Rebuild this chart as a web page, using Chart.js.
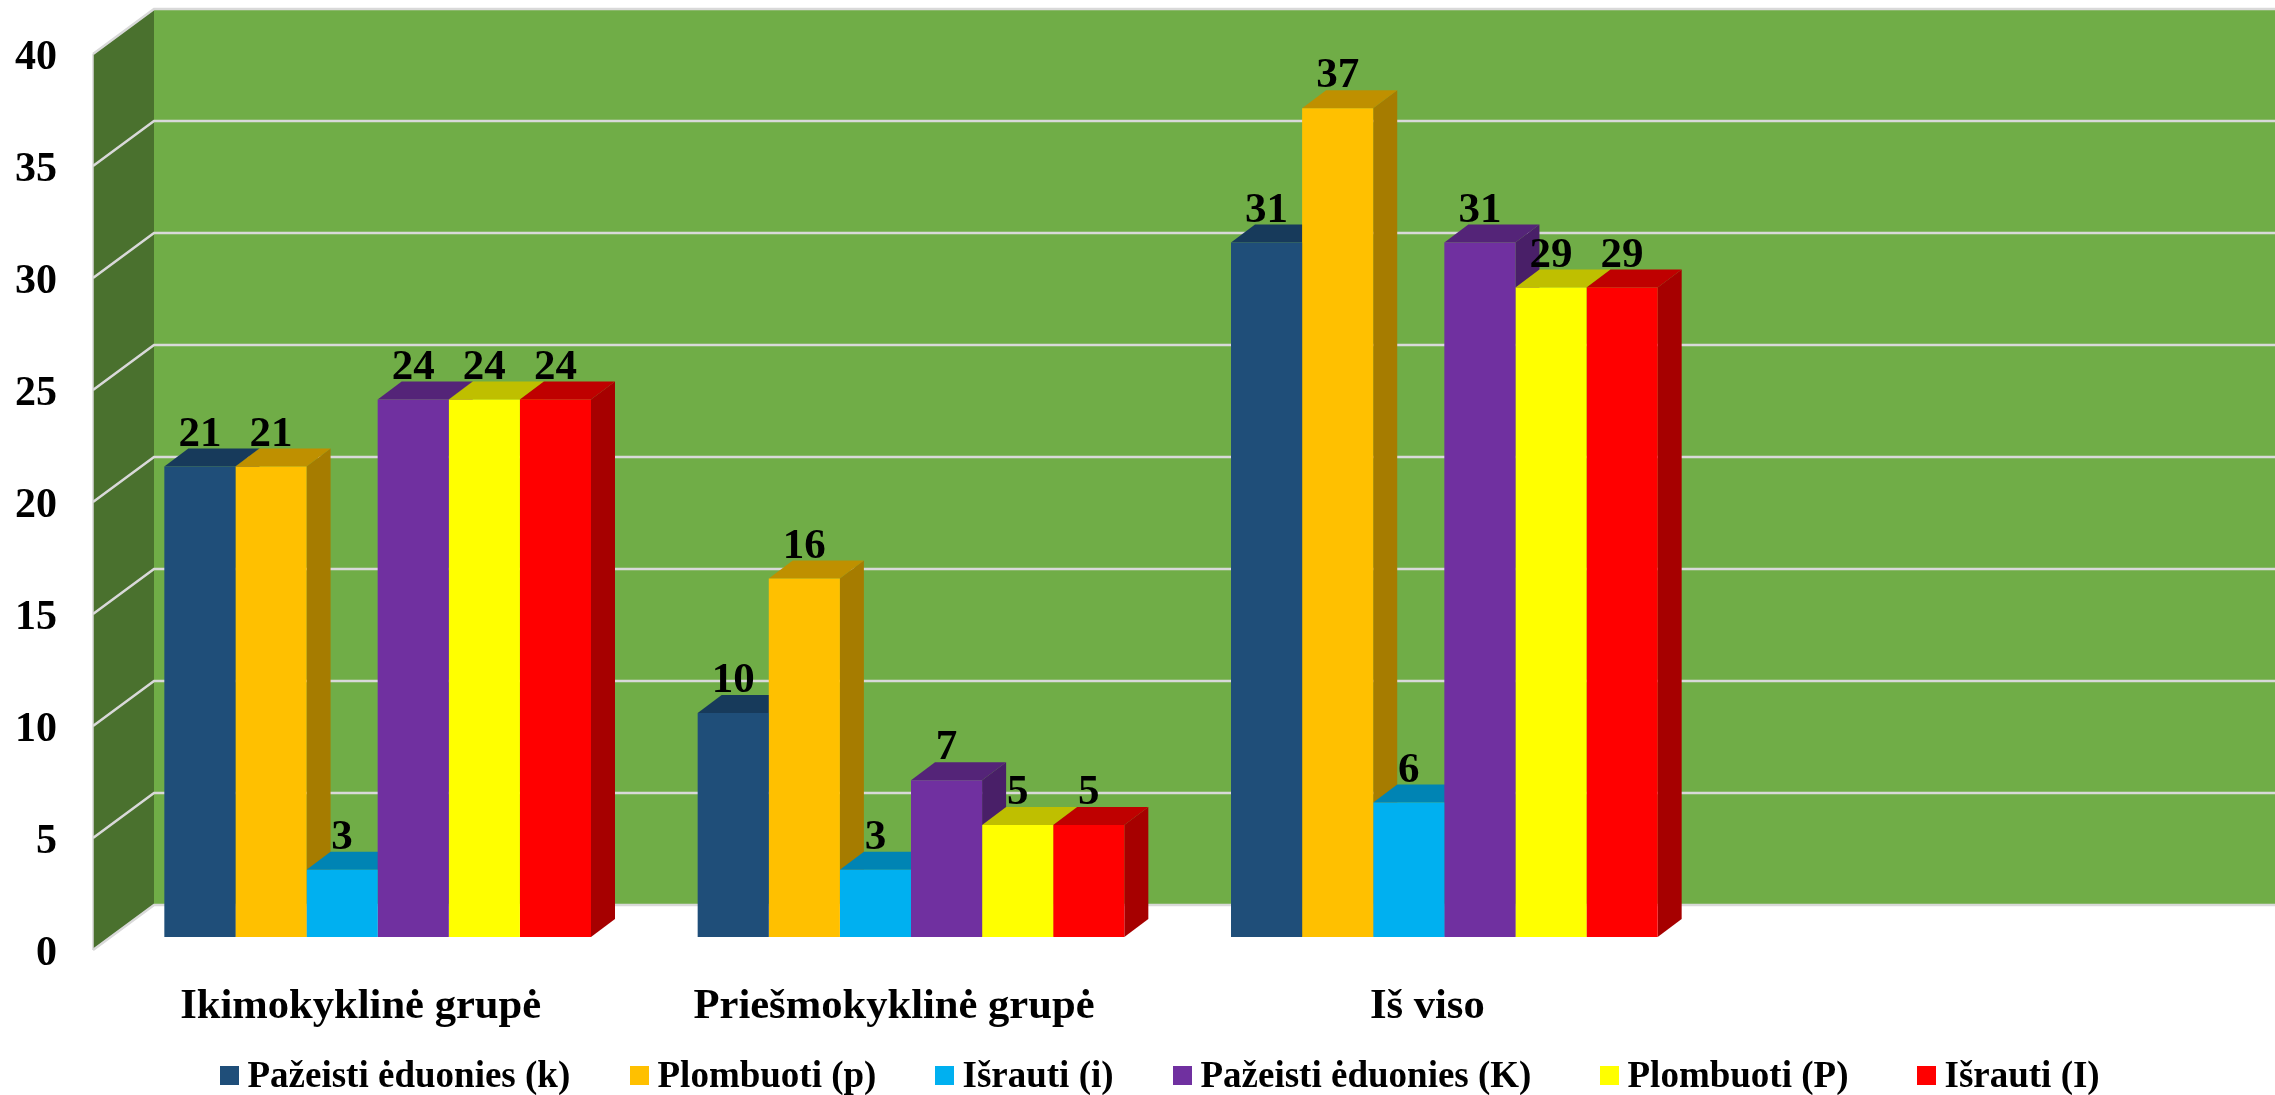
<!DOCTYPE html>
<html><head><meta charset="utf-8">
<style>html,body{margin:0;padding:0;background:#fff}#w{width:2275px;height:1095px}</style>
<script src="https://cdn.jsdelivr.net/npm/chart.js@4"></script>
</head><body><div id="w"><canvas id="c" width="2275" height="1095"></canvas></div>
<script>
const categories = ['Ikimokyklinė grupė', 'Priešmokyklinė grupė', 'Iš viso'];
const seriesNames = ['Pažeisti ėduonies (k)', 'Plombuoti (p)', 'Išrauti (i)', 'Pažeisti ėduonies (K)', 'Plombuoti (P)', 'Išrauti (I)'];
const pazeistiMazi = [21, 10, 31];
const plombuotiMazi = [21, 16, 37];
const israutiMazi = [3, 3, 6];
const pazeistiDideli = [24, 7, 31];
const plombuotiDideli = [24, 5, 29];
const israutiDideli = [24, 5, 29];
const seriesValues = [pazeistiMazi, plombuotiMazi, israutiMazi, pazeistiDideli, plombuotiDideli, israutiDideli];
const frontColors = ['#1F4E79', '#FFC000', '#00B0F0', '#7030A0', '#FFFF00', '#FF0000'];
const topColors   = ['#173A5B', '#BF9000', '#0084B4', '#542478', '#BFBF00', '#BF0000'];
const sideColors  = ['#14334F', '#A67C00', '#00729C', '#491F68', '#A6A600', '#A60000'];
const legendSwatchX = [220, 630, 935, 1173, 1600, 1917];
const FONT = '"Liberation Serif"';

const threeD = {
  id: 'threeD',
  beforeDatasetsDraw(chart) {
    const { ctx, scales: { y }, width } = chart;
    const backX = 154, sideX = 93;
    const backDy = -32, sideDy = 13;
    const poly = (pts, fill) => {
      ctx.beginPath(); pts.forEach((p, i) => i ? ctx.lineTo(p[0], p[1]) : ctx.moveTo(p[0], p[1]));
      ctx.closePath(); ctx.fillStyle = fill; ctx.fill();
    };
    const y0 = y.getPixelForValue(0), yT = y.getPixelForValue(40);
    ctx.save();
    poly([[backX, yT + backDy], [width, yT + backDy], [width, y0 + backDy], [backX, y0 + backDy]], '#70AD47');
    poly([[sideX, yT + sideDy], [backX, yT + backDy], [backX, y0 + backDy], [sideX, y0 + sideDy]], '#4A712E');
    ctx.strokeStyle = '#D9D9D9'; ctx.lineWidth = 2.5;
    y.ticks.forEach(t => {
      const py = y.getPixelForValue(t.value);
      ctx.beginPath();
      ctx.moveTo(sideX, py + sideDy); ctx.lineTo(backX, py + backDy); ctx.lineTo(width, py + backDy);
      ctx.stroke();
    });
    ctx.beginPath(); ctx.moveTo(sideX, yT + sideDy); ctx.lineTo(sideX, y0 + sideDy); ctx.lineWidth = 1.5; ctx.stroke();
    const dx = 24, dy = 18;
    chart.data.datasets.forEach((ds, i) => {
      chart.getDatasetMeta(i).data.forEach(b => {
        const l = b.x - b.width / 2, r = b.x + b.width / 2, t = b.y, bt = b.base;
        poly([[r, t], [r + dx, t - dy], [r + dx, bt - dy], [r, bt]], sideColors[i]);
        poly([[l, t], [l + dx, t - dy], [r + dx, t - dy], [r, t]], topColors[i]);
      });
    });
    ctx.restore();
  },
  afterDatasetsDraw(chart) {
    const { ctx } = chart;
    ctx.save();
    ctx.fillStyle = '#000'; ctx.textAlign = 'center'; ctx.textBaseline = 'middle';
    ctx.font = 'bold 43px ' + FONT;
    chart.data.datasets.forEach((ds, i) => {
      chart.getDatasetMeta(i).data.forEach((b, j) => {
        ctx.fillText(String(ds.data[j]), b.x, b.y - 32);
      });
    });
    ctx.font = 'bold 37px ' + FONT; ctx.textAlign = 'left'; ctx.textBaseline = 'alphabetic';
    chart.data.datasets.forEach((ds, i) => {
      const x = legendSwatchX[i];
      ctx.fillStyle = ds.backgroundColor;
      ctx.fillRect(x, 1066, 19, 19);
      ctx.fillStyle = '#000';
      ctx.fillText(ds.label, x + 27.5, 1087);
    });
    ctx.restore();
  }
};

new Chart(document.getElementById('c'), {
  type: 'bar',
  data: {
    labels: categories,
    datasets: seriesNames.map((n, i) => ({
      label: n, data: seriesValues[i], backgroundColor: frontColors[i], borderWidth: 0,
      categoryPercentage: 0.8, barPercentage: 1
    }))
  },
  plugins: [threeD],
  options: {
    responsive: false, animation: false,
    layout: { padding: { left: 0, right: 564, top: 41, bottom: 65 } },
    plugins: { legend: { display: false }, tooltip: { enabled: false }, title: { display: false } },
    scales: {
      x: {
        grid: { display: false }, border: { display: false },
        afterFit(s) { s.height = 93; s.paddingLeft = 0; s.paddingRight = 0; },
        ticks: { color: '#000', font: { family: FONT, size: 42.6, weight: 'bold' }, padding: 36, labelOffset: -17, maxRotation: 0, minRotation: 0 }
      },
      y: {
        min: 0, max: 40,
        grid: { display: false, drawTicks: false }, border: { display: false },
        afterFit(s) { s.width = 111; s.paddingTop = 0; s.paddingBottom = 0; },
        ticks: { stepSize: 5, color: '#000', font: { family: FONT, size: 42, weight: 'bold' }, padding: 54, labelOffset: 17 }
      }
    }
  }
});
</script></body></html>
